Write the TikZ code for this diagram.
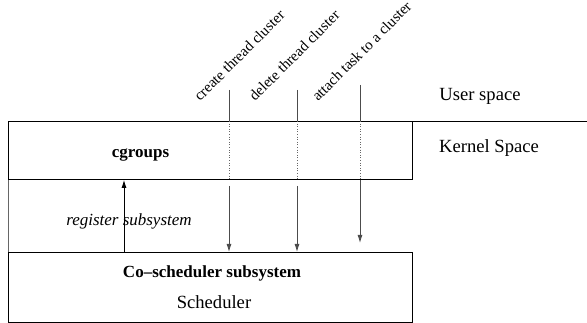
\documentclass[tikz,border=0pt]{standalone}
\usepackage{fontspec}
\setmainfont{Liberation Serif}
\usetikzlibrary{arrows.meta,positioning}

\begin{document}
\begin{tikzpicture}[x=1pt, y=-1pt,
  layer/.style={draw, line width=0.9pt, inner sep=0pt, anchor=north west},
  arr/.style={-{Latex[length=8pt,width=5pt]}, line width=0.9pt, black!70},
  call/.style={line width=0.9pt, black!70},
  thru/.style={dotted, line width=0.6pt, black!60},
  txt/.style={font=\fontsize{18.6}{20}\selectfont, anchor=base, inner sep=0pt},
  strong/.style={font=\fontsize{17}{19}\selectfont\bfseries, anchor=base, inner sep=0pt},
  op/.style={font=\fontsize{15}{17}\selectfont, anchor=base west, rotate=45, inner sep=0pt}
]
\useasboundingbox (0,0) rectangle (587,323);

% the two kernel boxes
\node[layer, minimum width=404pt, minimum height=58pt] (cgrp) at (8,121) {};
\node[layer, minimum width=404pt, minimum height=70pt] (sched) at (8,252) {};
\coordinate (rim) at (587,121);
\draw[line width=0.9pt] (cgrp.north east) -- (rim);
\draw[line width=0.9pt, black!60] (cgrp.south west) -- (sched.north west);

% texts
\node[strong] (cg) at (140.5,158) {cgroups};
\node[strong, font=\fontsize{17}{19}\selectfont\itshape] (reglbl) at (129,226) {register subsystem};
\node[strong] (cosub) at (212,278) {Co--scheduler subsystem};
\node[txt] (schedlbl) at (214,309) {Scheduler};
\node[txt] (user) at (480,101) {User space};
\node[txt] (kernel) at (489,153) {Kernel Space};

% calls from user space
\coordinate (create) at (229,90);
\coordinate (delete) at (297,90);
\coordinate (attach) at (360,85);
\node[op] (createlbl) at (200,102) {create thread cluster};
\node[op] (deletelbl) at (255,102) {delete thread cluster};
\node[op] (attachlbl) at (318,102) {attach task to a cluster};

\foreach \c in {create,delete} {
  \draw[call] (\c) -- (\c |- cgrp.north);
  \draw[thru] (\c |- cgrp.north) -- (\c |- cgrp.south);
  \draw[arr, shorten <=6pt] (\c |- cgrp.south) -- (\c |- sched.north);
}
\draw[call] (attach) -- (attach |- cgrp.north);
\draw[thru] (attach |- cgrp.north) -- (attach |- cgrp.south);
\draw[arr, shorten >=9pt] (attach |- cgrp.south) -- (attach |- sched.north);

% register arrow
\coordinate (reg) at (124,252);
\draw[arr, black] (reg) -- (reg |- cgrp.south);
\end{tikzpicture}
\end{document}
